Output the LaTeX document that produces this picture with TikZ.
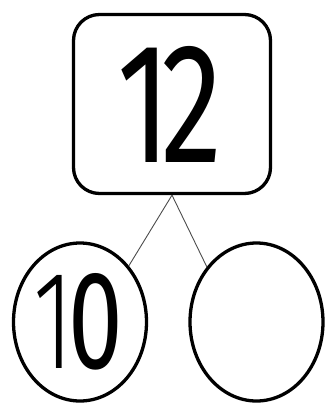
\documentclass[tikz,border=0pt]{standalone}
\usepackage{fontspec}
\setmainfont{DejaVu Sans}
\newfontfamily\digfont{Fira Sans Light}
\newfontfamily\digbold{Fira Sans}
\usetikzlibrary{shapes.geometric}
\tikzset{
  boxnode/.style={draw=black, line width=3.3pt, rounded corners=26pt, minimum width=197pt, minimum height=179pt, inner sep=0pt},
  ovalnode/.style={draw=black, line width=3.3pt, ellipse, minimum width=133pt, minimum height=158pt, inner sep=0pt},
  link/.style={draw=black!70, line width=0.9pt}
}
\begin{document}
\begin{tikzpicture}[x=1pt,y=-1pt]
\useasboundingbox (0,0) rectangle (328,405);
\node[boxnode] (top) at (172,104) {\hspace*{-4pt}\scalebox{0.72}[1]{\fontsize{171}{171}\digbold 1\kern-14pt 2}};
\node[ovalnode] (left) at (80,322) {\raisebox{-6pt}{\hspace*{-4pt}\scalebox{0.7}[1]{\fontsize{140}{140}\digfont 1\kern-8pt{\digbold 0}}}};
\node[ovalnode] (right) at (256.5,322) {};
\draw[link] (top.south) -- (left.49);
\draw[link] (top.south) -- (right.132);
\end{tikzpicture}
\end{document}
